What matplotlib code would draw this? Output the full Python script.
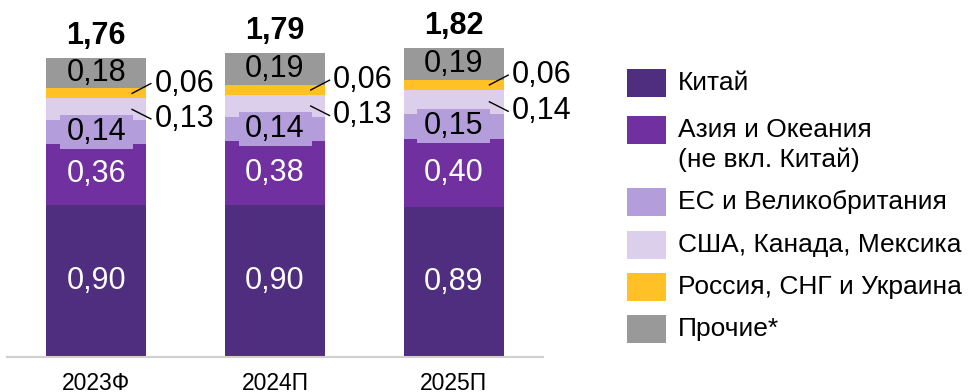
import matplotlib
matplotlib.use("Agg")
import matplotlib.pyplot as plt
from matplotlib.patches import Rectangle
import numpy as np

plt.rcParams['font.family'] = ['Liberation Sans', 'DejaVu Sans']

categories = ["2023Ф", "2024П", "2025П"]
series_names = ["Китай", "Азия и Океания\n(не вкл. Китай)", "ЕС и Великобритания",
                "США, Канада, Мексика", "Россия, СНГ и Украина", "Прочие*"]
china = [0.90, 0.90, 0.89]
asia = [0.36, 0.38, 0.40]
eu = [0.14, 0.14, 0.15]
usa = [0.13, 0.13, 0.14]
russia = [0.06, 0.06, 0.06]
other = [0.18, 0.19, 0.19]
totals = [1.76, 1.79, 1.82]

series = [china, asia, eu, usa, russia, other]
colors = ["#4f2d7f", "#7030a0", "#b39ddb", "#dccfeb", "#ffc125", "#999999"]
text_colors = ["white", "white", "black", None, None, "black"]

W, H = 968, 392
PXU = 169.0  # pixels per data unit
fig = plt.figure(figsize=(W / 100, H / 100), dpi=100)
ax = fig.add_axes([7 / W, 35 / H, 536 / W, 357 / H])
UX = 536 / 3.0  # pixels per x unit

x = np.arange(len(categories))
bw = 0.56
FS = 22
bottom = np.zeros(len(categories))
for vals, col, tc in zip(series, colors, text_colors):
    vals = np.array(vals)
    ax.bar(x, vals, bw, bottom=bottom, color=col, edgecolor='none', zorder=2)
    for i in range(len(x)):
        yc = bottom[i] + vals[i] / 2
        lbl = f"{vals[i]:.2f}".replace(".", ",")
        if col == colors[2]:
            bwid, bhei = 73 / UX, 34 / PXU
            ax.add_patch(Rectangle((x[i] - bwid / 2, yc - bhei / 2), bwid, bhei,
                                   facecolor=col, edgecolor='none', zorder=3))
            ax.text(x[i], yc, lbl, ha='center', va='center', fontsize=FS, color=tc, zorder=4)
        elif tc is not None:
            ax.text(x[i], yc, lbl, ha='center', va='center', fontsize=FS, color=tc, zorder=4)
        else:
            off = 0.058 if col == colors[4] else -0.056
            ax.plot([x[i] + 0.2, x[i] + 0.305], [yc, yc + off], color='black', lw=1, zorder=5)
            ax.text(x[i] + 0.325, yc + off, lbl, ha='left', va='center', fontsize=FS,
                    color='black', zorder=4)
    bottom = bottom + vals

for i in range(len(x)):
    ax.annotate(f"{totals[i]:.2f}".replace(".", ","), (x[i], bottom[i]), xytext=(0, 5),
                textcoords='offset points', ha='center', va='bottom', fontsize=FS,
                fontweight='bold')

ax.set_xlim(-0.5, 2.5)
ax.set_ylim(0, 357 / PXU)
ax.set_xticks(x)
ax.set_xticklabels(categories, fontsize=16.5)
ax.tick_params(axis='x', length=0, pad=11)
ax.set_yticks([])
for s in ['top', 'right', 'left']:
    ax.spines[s].set_visible(False)
ax.spines['bottom'].set_color('#d0d0d0')
ax.spines['bottom'].set_linewidth(1.5)

# legend (pixel layout)
lg = fig.add_axes([0, 0, 1, 1])
lg.set_xlim(0, W)
lg.set_ylim(H, 0)
lg.axis('off')
row_y = [83, 130, 202, 245, 287, 329]
for name, col, yy in zip(series_names, colors, row_y):
    lg.add_patch(Rectangle((627, yy - 14), 39, 28, facecolor=col, edgecolor='none'))
    for k, line in enumerate(name.split("\n")):
        lg.text(678, yy + 30 * k, line, ha='left', va='center', fontsize=19, color='black')

fig.savefig("out.png", dpi=100)
